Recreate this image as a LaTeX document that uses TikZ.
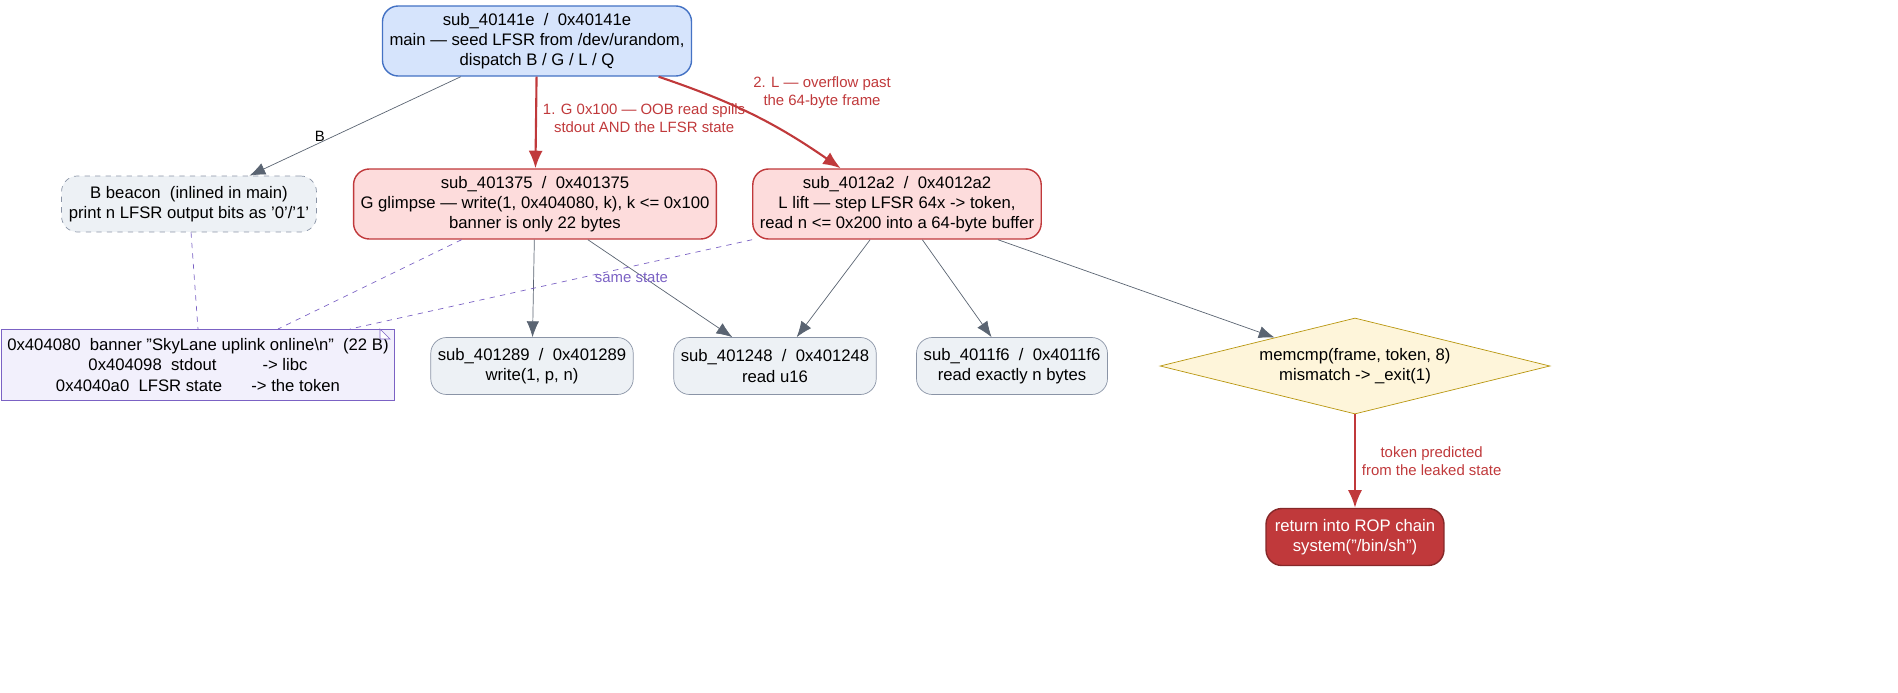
\documentclass[tikz,border=0pt]{standalone}
\usepackage{fontspec}
\setmainfont{Liberation Sans}
\usetikzlibrary{shapes.geometric, positioning, arrows.meta}

\definecolor{bluefill}{HTML}{D6E4FC}
\definecolor{blueline}{HTML}{4472C4}
\definecolor{redfill}{HTML}{FDDCDC}
\definecolor{redline}{HTML}{C0393B}
\definecolor{grayfill}{HTML}{EDF1F5}
\definecolor{grayline}{HTML}{8A94A6}
\definecolor{edgegray}{HTML}{5A6472}
\definecolor{notefill}{HTML}{F2F0FC}
\definecolor{noteline}{HTML}{7B62C4}
\definecolor{yelfill}{HTML}{FEF5DA}
\definecolor{yelline}{HTML}{B8960F}

\begin{document}
\begin{tikzpicture}[x=0.02cm, y=-0.02cm, font=\fontsize{9.5}{11.5}\selectfont,
box/.style={rounded corners=9pt, align=center, inner sep=4pt},
entry/.style={box, draw=blueline, fill=bluefill, thick},
vuln/.style={box, draw=redline, fill=redfill, thick},
leaf/.style={box, draw=grayline, fill=grayfill},
call/.style={-{Latex[length=9pt,width=7pt]}, draw=edgegray},
hot/.style={-{Latex[length=10pt,width=8pt]}, draw=redline, very thick},
elab/.style={font=\fontsize{8.5}{10}\selectfont, text=redline, align=center},
alias/.style={dashed, draw=noteline}]
\useasboundingbox (0,0) rectangle (1898,693);
% functions
\node[entry, minimum width=6.18cm, minimum height=1.4cm] (main) at (537,41)
  {sub\_40141e \ / \ 0x40141e\\main — seed LFSR from /dev/urandom,\\dispatch B / G / L / Q};
\node[leaf, dashed, minimum width=5.1cm, minimum height=1.12cm] (beacon) at (189,204)
  {B beacon \ (inlined in main)\\print n LFSR output bits as '0'/'1'};
\node[vuln, minimum width=7.14cm, minimum height=1.4cm] (glimpse) at (535,204)
  {sub\_401375 \ / \ 0x401375\\G glimpse — write(1, 0x404080, k), k <= 0x100\\banner is only 22 bytes};
\node[vuln, minimum width=5.66cm, minimum height=1.4cm] (lift) at (897,204)
  {sub\_4012a2 \ / \ 0x4012a2\\L lift — step LFSR 64x -> token,\\read n <= 0x200 into a 64-byte buffer};
\node[leaf, minimum width=4.02cm, minimum height=1.14cm] (write) at (532,366)
  {sub\_401289 \ / \ 0x401289\\write(1, p, n)};
\node[leaf, minimum width=4.02cm, minimum height=1.14cm] (readu) at (775,366)
  {sub\_401248 \ / \ 0x401248\\read u16};
\node[leaf, minimum width=3.82cm, minimum height=1.14cm] (readn) at (1012,366)
  {sub\_4011f6 \ / \ 0x4011f6\\read exactly n bytes};
\node[diamond, aspect=4, draw=yelline, fill=yelfill, align=center, inner sep=0pt,
  minimum width=7.8cm, minimum height=1.92cm] (cmp) at (1355,366)
  {memcmp(frame, token, 8)\\mismatch -> \_exit(1)};
\node[box, draw=redline!70!black, fill=redline, text=white, thick,
  minimum width=3.56cm, minimum height=1.14cm] (rop) at (1355,537)
  {return into ROP chain\\system("/bin/sh")};
% data note
\node[draw=noteline, fill=notefill, align=center, minimum width=7.68cm,
  minimum height=1.42cm] (banner) at (198,365)
  {0x404080 \ banner "SkyLane uplink online\textbackslash n" \ (22 B)\\
   0x404098 \ stdout \hspace{2.2em} -> libc\\
   0x4040a0 \ LFSR state \hspace{1.2em} -> the token};
\coordinate (fold) at (380,329);
\draw[draw=noteline, fill=white] (fold) -- ++(10,10) -- ++(-10,0) -- cycle;
\coordinate (gtip) at (278,329);
\coordinate (ltip) at (350,329);
% calls
\draw[call] (main) -- node[pos=0.72, above right, font=\fontsize{8.5}{10}\selectfont] {B} (beacon);
\draw[hot] (main) -- node[elab, right, pos=0.45] {1. G 0x100 — OOB read spills\\stdout AND the LFSR state} (glimpse);
\draw[hot] (main) to[bend left=8] node[elab, above right, pos=0.5, xshift=-4pt] {2. L — overflow past\\the 64-byte frame} (lift);
\draw[call] (glimpse) -- (write);
\draw[call] (glimpse) -- (readu);
\draw[call] (lift) -- (readu);
\draw[call] (lift) -- (readn);
\draw[call] (lift) -- (cmp);
\draw[hot] (cmp) -- node[elab, right] {token predicted\\from the leaked state} (rop);
% aliases
\draw[alias] (beacon) -- (banner.north);
\draw[alias] (glimpse) -- (gtip);
\draw[alias] (lift.south west) -- node[pos=0.3, below, text=noteline, font=\fontsize{8.5}{10}\selectfont] {same state} (ltip);
\end{tikzpicture}
\end{document}
